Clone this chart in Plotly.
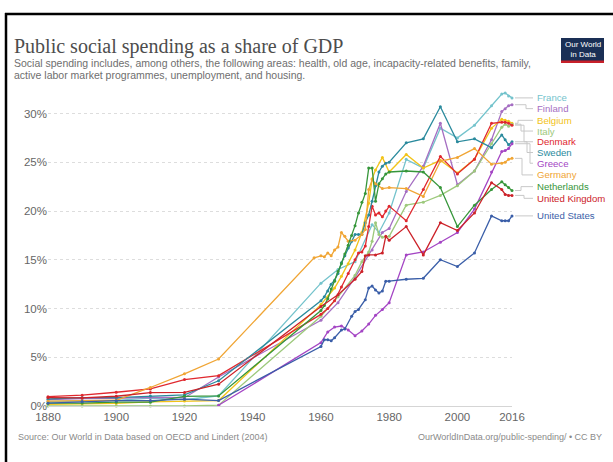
import plotly.graph_objects as go

# ---------------- data ----------------
countries = ["France", "Finland", "Belgium", "Italy", "Denmark", "Sweden",
             "Greece", "Germany", "Netherlands", "United Kingdom", "United States"]

colors = {
    "France": "#74c3cc", "Finland": "#a56ec2", "Belgium": "#f2c318",
    "Italy": "#9dc97c", "Denmark": "#e0282e", "Sweden": "#2a8a9d",
    "Greece": "#a445c4", "Germany": "#f0a534", "Netherlands": "#36963a",
    "United Kingdom": "#cc2229", "United States": "#3a5ea8",
}

early_years = [1880, 1890, 1900, 1910, 1920, 1930]
late_years = [1985, 1990, 1995, 2000, 2005, 2010, 2013, 2014, 2015, 2016]

france_years = early_years + [1960, 1965, 1970, 1975, 1977, 1980] + late_years
france_vals = [0.46, 0.54, 0.57, 0.81, 0.64, 1.05,
               12.6, 14.0, 14.8, 18.6, 17.8, 19.8,
               25.3, 24.4, 28.5, 27.5, 28.8, 30.8, 32.0, 32.1, 31.8, 31.6]

finland_years = early_years + [1960, 1965, 1970, 1975, 1978, 1980] + late_years
finland_vals = [0.66, 0.76, 0.78, 0.90, 0.85, 2.97,
                8.8, 10.6, 13.2, 16.0, 17.8, 18.2,
                22.0, 24.6, 29.0, 22.7, 24.1, 27.3, 30.2, 30.5, 30.8, 30.9]

belgium_years = early_years + [1960, 1962, 1964, 1966, 1968, 1970, 1972, 1974, 1975, 1976, 1978, 1980] + late_years
belgium_vals = [0.17, 0.22, 0.26, 0.43, 0.52, 0.56,
                10.4, 11.2, 12.1, 13.3, 14.6, 16.0, 17.8, 20.8, 23.3, 24.2, 25.5, 24.0,
                25.8, 24.4, 25.2, 23.9, 25.3, 28.5, 29.4, 29.3, 29.2, 29.0]

italy_years = early_years + [1960, 1965, 1970, 1972, 1974, 1975, 1976, 1977, 1978, 1980] + late_years
italy_vals = [0.0, 0.0, 0.0, 0.0, 0.0, 0.08,
              9.2, 11.2, 13.4, 14.8, 15.8, 16.9, 18.8, 17.6, 17.3, 17.4,
              20.6, 20.9, 21.6, 22.6, 24.1, 26.9, 28.6, 28.9, 28.7, 28.9]

denmark_years = early_years + [1960, 1962, 1964, 1966, 1968, 1970, 1971, 1972, 1973, 1974,
                               1975, 1976, 1977, 1978, 1979, 1980] + late_years
denmark_vals = [0.96, 1.11, 1.41, 1.75, 2.71, 3.11,
                9.4, 10.0, 10.8, 12.2, 13.6, 15.0, 15.7, 15.8, 16.4, 18.4,
                20.5, 19.6, 19.8, 19.4, 20.0, 20.5,
                19.0, 22.2, 25.6, 23.8, 25.3, 29.0, 29.1, 29.1, 29.0, 28.8]

sweden_years = early_years + list(range(1960, 1981)) + late_years
sweden_vals = [0.72, 0.85, 0.85, 1.03, 1.14, 2.59,
               10.8, 11.2, 11.8, 12.5, 12.9, 13.6, 14.7, 15.4, 16.2, 16.9, 17.6,
               17.6, 17.6, 18.8, 19.6, 21.0, 22.6, 24.0, 24.6, 24.9, 25.0,
               27.0, 27.4, 30.7, 27.1, 27.4, 26.5, 27.8, 27.3, 26.8, 27.1]

greece_years = [1930, 1960, 1962, 1964, 1966, 1968, 1970, 1972, 1974, 1976, 1978, 1980] + late_years
greece_vals = [0.07,
               6.5, 7.6, 8.1, 8.2, 7.8, 7.2, 7.7, 8.4, 9.3, 9.9, 10.6,
               15.5, 15.8, 16.8, 17.8, 20.2, 24.0, 26.1, 26.2, 26.4, 26.9]

germany_years = early_years + [1958, 1960, 1961, 1962, 1963, 1964, 1965, 1966, 1967, 1968,
                               1970, 1972, 1973, 1974, 1975, 1976, 1978, 1980] + late_years
germany_vals = [0.50, 0.53, 0.59, 1.9, 3.3, 4.82,
                15.2, 15.4, 15.3, 15.7, 15.4, 16.0, 16.3, 17.8, 17.4, 16.9,
                17.0, 17.6, 18.1, 22.2, 23.2, 22.8, 22.3, 22.4,
                22.3, 21.5, 25.1, 25.5, 26.4, 24.8, 24.9, 25.0, 25.3, 25.4]

netherlands_years = early_years + list(range(1960, 1981)) + late_years
netherlands_vals = [0.29, 0.30, 0.39, 0.39, 0.99, 1.03,
                    9.8, 10.3, 11.0, 12.0, 12.8, 13.8, 14.6, 15.6, 16.5, 17.5, 18.5,
                    19.8, 20.9, 21.8, 24.4, 24.4, 21.0, 22.8, 23.3, 23.8, 24.0,
                    24.1, 24.0, 22.4, 18.4, 20.6, 22.2, 23.0, 22.7, 22.4, 22.1]

uk_years = early_years + [1960, 1965, 1970, 1972, 1973, 1974, 1976, 1978, 1979, 1980] + late_years
uk_vals = [0.86, 0.83, 1.00, 1.38, 1.39, 2.24,
           10.2, 11.4, 13.0, 13.8, 15.4, 15.5, 15.5, 15.7, 17.4, 17.0,
           18.4, 15.5, 18.8, 18.0, 19.8, 22.9, 22.2, 21.7, 21.6, 21.6]

us_years = early_years + [1960, 1961, 1962, 1963, 1964, 1966, 1967, 1969, 1970, 1971,
                          1973, 1974, 1975, 1976, 1977, 1978, 1979, 1980] + late_years
us_vals = [0.29, 0.45, 0.55, 0.56, 0.70, 0.56,
           6.1, 6.8, 6.8, 6.7, 7.0, 7.8, 7.9, 9.2, 9.7, 9.9,
           10.9, 12.1, 12.3, 11.9, 11.6, 11.8, 12.8, 12.8,
           13.0, 13.1, 15.0, 14.3, 15.7, 19.5, 19.0, 19.0, 19.0, 19.5]

series = {
    "France": (france_years, france_vals),
    "Finland": (finland_years, finland_vals),
    "Belgium": (belgium_years, belgium_vals),
    "Italy": (italy_years, italy_vals),
    "Denmark": (denmark_years, denmark_vals),
    "Sweden": (sweden_years, sweden_vals),
    "Greece": (greece_years, greece_vals),
    "Germany": (germany_years, germany_vals),
    "Netherlands": (netherlands_years, netherlands_vals),
    "United Kingdom": (uk_years, uk_vals),
    "United States": (us_years, us_vals),
}

x_tickvals = [1880, 1900, 1920, 1940, 1960, 1980, 2000, 2016]
y_tickvals = [0, 5, 10, 15, 20, 25, 30]
y_ticktext = ["0%", "5%", "10%", "15%", "20%", "25%", "30%"]

# label positions (in % units) for the end-of-line labels
label_pos = {
    "France": 31.6, "Finland": 30.5, "Belgium": 29.3, "Italy": 28.2,
    "Denmark": 27.1, "Sweden": 26.0, "Greece": 24.9, "Germany": 23.7,
    "Netherlands": 22.5, "United Kingdom": 21.3, "United States": 19.5,
}
elbow_px = {
    "France": 524, "Finland": 526, "Belgium": 518, "Italy": 521,
    "Denmark": 524, "Sweden": 527, "Greece": 530, "Germany": 522,
    "Netherlands": 521, "United Kingdom": 524, "United States": 524,
}

# ---------------- layout geometry ----------------
W, H = 613, 462
L, R, T, B = 48, 101, 90, 56
PW, PH = W - L - R, H - T - B
YMAX = PH / 9.75

SANS = "Liberation Sans, Arial, sans-serif"


def px(x):
    return (x - L) / PW


def py(y):
    return (H - B - y) / PH


fig = go.Figure()

for name in countries:
    xs, ys = series[name]
    fig.add_trace(go.Scatter(
        x=xs, y=ys, mode="lines+markers", name=name,
        line=dict(color=colors[name], width=1.3),
        marker=dict(color=colors[name], size=3),
        hoverinfo="skip", showlegend=False, cliponaxis=False,
    ))

shapes = []
annotations = []

# connectors + labels
for name in countries:
    xs, ys = series[name]
    yend = ys[-1]
    ylab = label_pos[name]
    ex = px(elbow_px[name])
    shapes.append(dict(
        type="path", xref="paper", yref="y",
        path=f"M {px(515)} {yend} L {ex} {yend} L {ex} {ylab} L {px(533)} {ylab}",
        line=dict(color="#c8c8c8", width=1),
    ))
    annotations.append(dict(
        xref="paper", yref="y", x=px(535), y=ylab, text=name, showarrow=False,
        xanchor="left", yanchor="middle",
        font=dict(family=SANS, size=9.6, color=colors[name]),
    ))

# title & subtitle
annotations.append(dict(
    xref="paper", yref="paper", x=px(12), y=py(47), text="Public social spending as a share of GDP",
    showarrow=False, xanchor="left", yanchor="middle",
    font=dict(family="Liberation Serif, DejaVu Serif, serif", size=20, color="#4d4d4d"),
))
annotations.append(dict(
    xref="paper", yref="paper", x=px(12), y=py(63),
    text="Social spending includes, among others, the following areas: health, old age, incapacity-related benefits, family,",
    showarrow=False, xanchor="left", yanchor="middle",
    font=dict(family=SANS, size=10.5, color="#6e6e6e"),
))
annotations.append(dict(
    xref="paper", yref="paper", x=px(12), y=py(75),
    text="active labor market programmes, unemployment, and housing.",
    showarrow=False, xanchor="left", yanchor="middle",
    font=dict(family=SANS, size=10.5, color="#6e6e6e"),
))

# footer
annotations.append(dict(
    xref="paper", yref="paper", x=px(16), y=py(437),
    text="Source: Our World in Data based on OECD and Lindert (2004)",
    showarrow=False, xanchor="left", yanchor="middle",
    font=dict(family=SANS, size=9, color="#8a8a8a"),
))
annotations.append(dict(
    xref="paper", yref="paper", x=px(604), y=py(437),
    text="OurWorldInData.org/public-spending/ • CC BY",
    showarrow=False, xanchor="right", yanchor="middle",
    font=dict(family=SANS, size=9, color="#8a8a8a"),
))

# logo
shapes.append(dict(type="rect", xref="paper", yref="paper",
                   x0=px(561), x1=px(604), y0=py(63), y1=py(38),
                   fillcolor="#1a2f55", line=dict(width=0)))
shapes.append(dict(type="rect", xref="paper", yref="paper",
                   x0=px(561), x1=px(604), y0=py(63), y1=py(60.5),
                   fillcolor="#c8202a", line=dict(width=0)))
annotations.append(dict(
    xref="paper", yref="paper", x=px(582.5), y=py(49.5), text="Our World<br>in Data",
    showarrow=False, xanchor="center", yanchor="middle",
    font=dict(family=SANS, size=8, color="white"),
))

# black frame lines of the screenshot
shapes.append(dict(type="line", xref="paper", yref="paper",
                   x0=px(5), x1=px(613), y0=py(14), y1=py(14),
                   line=dict(color="black", width=2.5)))
shapes.append(dict(type="line", xref="paper", yref="paper",
                   x0=px(6), x1=px(6), y0=py(13), y1=py(462),
                   line=dict(color="black", width=2.5)))

fig.update_layout(
    width=W, height=H,
    margin=dict(l=L, r=R, t=T, b=B),
    paper_bgcolor="white", plot_bgcolor="white",
    shapes=shapes, annotations=annotations,
    xaxis=dict(range=[1880, 2016], tickvals=x_tickvals, ticktext=[str(v) for v in x_tickvals],
               showgrid=False, zeroline=False, showline=True, linecolor="#d5d5d5", linewidth=1,
               ticks="", tickfont=dict(family=SANS, size=11.5, color="#666"),
               fixedrange=True),
    yaxis=dict(range=[0, YMAX], tickvals=y_tickvals, ticktext=y_ticktext,
               showgrid=True, gridcolor="#dddddd", griddash="dot", gridwidth=1,
               zeroline=False, showline=False, ticks="",
               tickfont=dict(family=SANS, size=11.5, color="#666"),
               fixedrange=True),
    font=dict(family=SANS),
)

fig.write_html(
    "out.html",
    config={"displayModeBar": False},
    post_script="document.body.style.margin='0';document.body.style.padding='0';",
)
